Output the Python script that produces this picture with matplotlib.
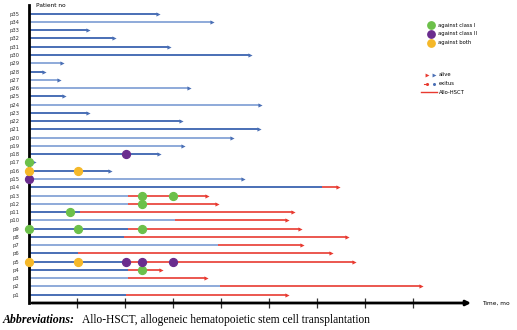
import matplotlib.pyplot as plt
import numpy as np

# months per patient, p1..p35
patients = ['p%d' % i for i in range(1, 36)]
total = [32.2, 49.0, 22.1, 16.5, 40.6, 37.7, 34.1, 39.7, 33.9, 32.2,
         33.0, 23.5, 22.2, 38.6, 26.7, 10.1, 0.6, 16.2, 19.2, 25.4,
         28.7, 19.0, 7.4, 28.9, 4.4, 20.0, 3.7, 1.9, 4.1, 27.6,
         17.5, 10.6, 7.4, 22.9, 16.1]
# start of Allo-HSCT (None = no transplant)
hsct = [12.1, 23.9, 12.4, 12.4, 12.1, 6.1, 23.6, 11.9, 12.4, 18.2,
        6.4, 12.4, 12.4, 36.6, None, None, None, None, None, None,
        None, None, None, None, None, None, None, None, None, None,
        None, None, None, None, None]
# antibody detection (patient index, month)
class1 = [(4, 14.1), (9, 0.0), (9, 6.1), (9, 14.1), (11, 5.1),
          (12, 14.1), (13, 14.1), (13, 18.0), (17, 0.0)]
class2 = [(5, 12.1), (5, 14.1), (5, 18.0), (15, 0.0), (18, 12.1)]
both = [(5, 0.0), (5, 6.1), (16, 0.0), (16, 6.1)]

blue_d = '#4a6fb5'
blue_l = '#8eaad9'
red = '#e83a30'
green = '#6cc04a'
purple = '#6a2c8e'
yellow = '#f5b829'

shade = [blue_d, blue_l, blue_l, blue_d, blue_d, blue_d, blue_l, blue_d, blue_d, blue_l,
         blue_d, blue_l, blue_l, blue_d, blue_l, blue_d, blue_d, blue_d, blue_l, blue_l,
         blue_d, blue_d, blue_d, blue_l, blue_d, blue_l, blue_l, blue_d, blue_l, blue_d,
         blue_d, blue_d, blue_d, blue_l, blue_d]

fig = plt.figure(figsize=(5.17, 3.30), dpi=100)
ax = fig.add_axes([29/517, 27/330, 456/517, 298/330])
ax.set_xlim(0, 57)
ax.set_ylim(0, 36.05)

for i in range(35):
    y = i + 1
    h = hsct[i]
    if h is None:
        ax.plot([0, total[i]], [y, y], color=shade[i], lw=1.4, solid_capstyle='butt', zorder=2)
        ax.plot(total[i], y, '>', color=blue_d, ms=3, mew=0, zorder=3)
    else:
        ax.plot([0, h], [y, y], color=shade[i], lw=1.4, solid_capstyle='butt', zorder=2)
        ax.plot([h, total[i]], [y, y], color=red, lw=1.4, alpha=0.85, solid_capstyle='butt', zorder=2)
        ax.plot(total[i], y, '>', color=red, ms=3, mew=0, zorder=3)

for pts, c in [(class1, green), (class2, purple), (both, yellow)]:
    ax.scatter([p[1] for p in pts], [p[0] for p in pts], s=32, color=c, zorder=4, clip_on=False)

ax.set_yticks(range(1, 36))
ax.set_yticklabels(patients, fontsize=3.8, color='#333333')
ax.tick_params(axis='y', length=0, pad=7)
ax.set_xticks([6, 12, 18, 24, 30, 36, 42, 48])
ax.set_xticklabels([])
ax.tick_params(axis='x', direction='inout', length=7, width=0.9, color='#333333')

for s in ['top', 'right', 'bottom']:
    ax.spines[s].set_visible(False)
ax.spines['left'].set_linewidth(2.0)
ax.annotate('', xy=(55.6, 0), xytext=(0, 0), xycoords='data',
            arrowprops=dict(arrowstyle='-|>', color='black', lw=2.0, mutation_scale=7),
            annotation_clip=False)

ax.text(0.9, 36.0, 'Patient no', fontsize=4.2, va='center')
ax.text(56.6, 0, 'Time, mo', fontsize=4.2, va='center')

# legend
lx = 50.25
for k, (c, t) in enumerate([(green, 'against class I'), (purple, 'against class II'), (yellow, 'against both')]):
    yy = 33.6 - k * 1.05
    ax.scatter(lx, yy, s=28, color=c, zorder=4)
    ax.text(lx + 0.9, yy, t, fontsize=3.8, va='center')
ax.plot([lx - 0.5], [27.6], '>', color=red, ms=2.8, mew=0)
ax.plot([lx + 0.4], [27.6], '>', color=blue_d, ms=2.8, mew=0)
ax.text(lx + 1.0, 27.6, 'alive', fontsize=3.8, va='center')
ax.plot([lx - 0.9, lx - 0.4], [26.5, 26.5], color=red, lw=0.8)
ax.plot([lx - 0.5], [26.5], 'o', color=red, ms=2.2, mew=0)
ax.plot([lx + 0.4], [26.5], 'o', color=blue_d, ms=2.2, mew=0)
ax.text(lx + 1.0, 26.5, 'exitus', fontsize=3.8, va='center')
ax.plot([lx - 1.3, lx + 0.7], [25.5, 25.5], color=red, lw=1.0)
ax.text(lx + 1.0, 25.5, 'Allo-HSCT', fontsize=3.8, va='center')

fig.text(3/517, 1 - 320/330, 'Abbreviations:', fontsize=8.6,
         family='Liberation Serif', style='italic', weight='bold', va='center')
fig.text(82/517, 1 - 320/330, 'Allo-HSCT, allogeneic hematopoietic stem cell transplantation',
         fontsize=8.3, family='Liberation Serif', va='center')

fig.savefig('out.png', dpi=100)
